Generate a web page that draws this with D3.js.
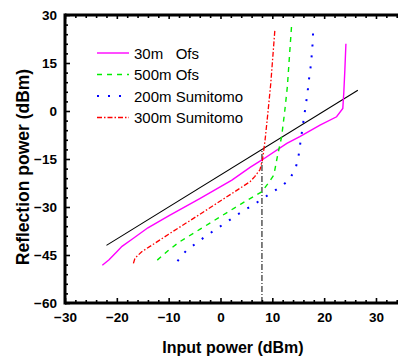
<!DOCTYPE html>
<html>
<head>
<meta charset="utf-8">
<script src="https://cdn.jsdelivr.net/npm/d3@7"></script>
<style>
  body { margin: 0; background: #fff; }
  svg { display: block; font-family: Arial, "Liberation Sans", sans-serif; }
</style>
</head>
<body>
<div id="chart"></div>
<script>
// Series: [input power, reflection power] in dBm
const ofs30 = [[-22.8, -48.2], [-21.5, -46.5], [-20, -44], [-19, -42.3], [-17, -40], [-14, -36.5],
  [-10, -32.8], [-4, -27.4], [2.2, -21.6], [5.7, -17.6], [8, -15.3], [12.8, -10.1], [15.3, -8],
  [19.2, -4.4], [22.4, -1.8], [23.6, 0.8], [23.8, 6], [24, 13], [24.2, 21]];
const ofs500 = [[-12.2, -46.6], [-10, -43.5], [-8, -41], [-4, -37], [0, -33], [4, -29], [8, -25.2],
  [9.2, -22.6], [10.3, -20], [11, -14], [11.8, -8], [12.4, 0], [12.9, 7.6], [13.3, 17], [13.7, 26.3]];
const sumi200 = [[-8.3, -46.9], [-6.6, -43.6], [-3, -39.3], [4.1, -31.5], [7.8, -27.8], [9.5, -25.9],
  [11.3, -24], [13.1, -21.8], [14.4, -18.4], [15, -14.8], [15.3, -11.2], [15.6, -7.8], [15.9, -4.4],
  [16.2, -1], [16.5, 2.4], [16.8, 5.7], [17, 9.2], [17.3, 12.3], [17.5, 15.6], [17.7, 19], [17.9, 25.6]];
const sumi300 = [[-16.8, -47.6], [-16.5, -46], [-15.2, -44], [-10, -38.5], [-4, -32.3], [2, -26],
  [5.7, -22.1], [6.6, -20.5], [7.6, -18.4], [8.1, -15.3], [8.6, -9.1], [9.2, 0.3], [9.7, 8.6],
  [10.1, 17], [10.5, 25.5]];
const fitLine = [[-22, -42], [26.5, 6.5]];
const markerX = [[8, -60], [8, -12]];

const seriesNames = ["30m   Ofs", "500m Ofs", "200m Sumitomo", "300m Sumitomo"];
const xMajor = [-30, -20, -10, 0, 10, 20, 30];
const yMajor = [30, 15, 0, -15, -30, -45, -60];

const width = 398, height = 360;
const margin = { top: 15, left: 65, bottom: 57 };

const x = d3.scaleLinear().domain([-30, 40]).range([margin.left, margin.left + 70 * 5.183]);
const y = d3.scaleLinear().domain([-60, 30]).range([height - margin.bottom, margin.top]);

const svg = d3.select("#chart").append("svg")
  .attr("width", width)
  .attr("height", height);

const xMinor = d3.range(-30, 41, 2).filter(v => v % 10 !== 0);
const yMinor = d3.range(-60, 31, 3).filter(v => v % 15 !== 0);

function styleAxis(g) {
  g.select(".domain").remove();
  g.selectAll("line").attr("stroke", "#000").attr("stroke-width", 1.6);
  g.selectAll("text").attr("font-size", "13.5px").attr("font-weight", "bold").attr("fill", "#000");
}

// bottom axis
svg.append("g").attr("transform", `translate(0,${y(-60)})`)
  .call(d3.axisBottom(x).tickValues(xMinor).tickSize(-3).tickFormat(""))
  .call(styleAxis);
svg.append("g").attr("transform", `translate(0,${y(-60)})`)
  .call(d3.axisBottom(x).tickValues(xMajor).tickSizeInner(-5).tickSizeOuter(0).tickPadding(9))
  .call(styleAxis);

// top axis
svg.append("g").attr("transform", `translate(0,${y(30)})`)
  .call(d3.axisTop(x).tickValues(xMinor).tickSize(-3).tickFormat(""))
  .call(styleAxis);
svg.append("g").attr("transform", `translate(0,${y(30)})`)
  .call(d3.axisTop(x).tickValues(xMajor).tickSize(-4).tickFormat(""))
  .call(styleAxis);

// left axis
svg.append("g").attr("transform", `translate(${x(-30)},0)`)
  .call(d3.axisLeft(y).tickValues(yMinor).tickSize(-3).tickFormat(""))
  .call(styleAxis);
svg.append("g").attr("transform", `translate(${x(-30)},0)`)
  .call(d3.axisLeft(y).tickValues(yMajor).tickSizeInner(-5).tickSizeOuter(0).tickPadding(8))
  .call(styleAxis);

// frame lines
svg.append("line").attr("x1", x(-30)).attr("x2", width).attr("y1", y(-60)).attr("y2", y(-60))
  .attr("stroke", "#000").attr("stroke-width", 3);
svg.append("line").attr("x1", x(-30)).attr("x2", width).attr("y1", y(30)).attr("y2", y(30))
  .attr("stroke", "#000").attr("stroke-width", 3);
svg.append("line").attr("x1", x(-30)).attr("x2", x(-30)).attr("y1", y(30) - 1.5).attr("y2", y(-60) + 1.5)
  .attr("stroke", "#000").attr("stroke-width", 3);

const line = d3.line().x(d => x(d[0])).y(d => y(d[1]));

const styles = [
  { data: ofs30, color: "#ff00ff", dash: null, w: 1.4 },
  { data: ofs500, color: "#00ee00", dash: "5,5", w: 1.4 },
  { data: sumi200, color: "#0000ff", dash: "2,9", w: 2 },
  { data: sumi300, color: "#ff0000", dash: "5,2,1.5,2", w: 1.3 }
];

svg.append("path").attr("d", line(fitLine)).attr("fill", "none")
  .attr("stroke", "#000").attr("stroke-width", 1.1);
svg.append("path").attr("d", line(markerX)).attr("fill", "none")
  .attr("stroke", "#000").attr("stroke-width", 1).attr("stroke-dasharray", "6,2,1,2");

styles.forEach(s => {
  svg.append("path").attr("d", line(s.data)).attr("fill", "none")
    .attr("stroke", s.color).attr("stroke-width", s.w)
    .attr("stroke-dasharray", s.dash);
});

// legend
const legend = svg.append("g");
seriesNames.forEach((name, i) => {
  const ly = 53 + i * 21.5;
  const s = styles[i];
  legend.append("line").attr("x1", 97).attr("x2", 129).attr("y1", ly).attr("y2", ly)
    .attr("stroke", s.color).attr("stroke-width", s.w).attr("stroke-dasharray", s.dash);
  legend.append("text").attr("x", 134).attr("y", ly + 5.5)
    .attr("font-size", "15px").attr("xml:space", "preserve").style("white-space", "pre")
    .text(name);
});

// axis titles
svg.append("text").attr("x", 233).attr("y", 353).attr("text-anchor", "middle")
  .attr("font-size", "16px").attr("font-weight", "bold").text("Input power (dBm)");
svg.append("text").attr("transform", `translate(29,${(y(30) + y(-60)) / 2 + 8}) rotate(-90)`)
  .attr("text-anchor", "middle").attr("font-size", "17.5px").attr("font-weight", "bold")
  .text("Reflection power (dBm)");
</script>
</body>
</html>
